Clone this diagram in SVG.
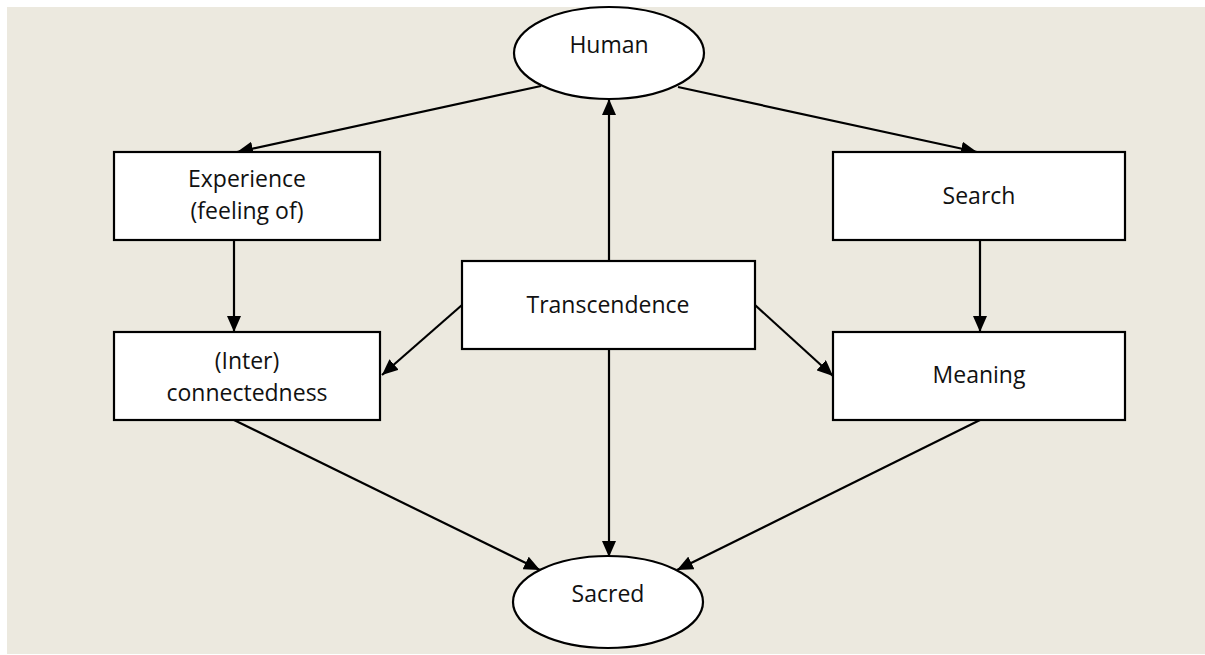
<svg xmlns="http://www.w3.org/2000/svg" width="1205" height="655" viewBox="0 0 1205 655">
  <defs>
    <marker id="arrow" viewBox="0 0 16 14" refX="16" refY="7" markerWidth="16" markerHeight="14" markerUnits="userSpaceOnUse" orient="auto">
      <path d="M0,0 L16,7 L0,14 Z" fill="#000"/>
    </marker>
  </defs>
  <style>
    .node { fill: #fff; stroke: #000; stroke-width: 2.2; }
    .label { font-family: "Open Sans", "Liberation Sans", sans-serif; font-size: 23px; fill: #111; text-anchor: middle; }
    .edge { stroke: #000; stroke-width: 2.2; fill: none; marker-end: url(#arrow); }
  </style>

  <!-- page background -->
  <rect x="0" y="0" width="1205" height="655" fill="#fff"/>
  <rect x="7" y="7" width="1198" height="647" fill="#ECE9DF"/>

  <!-- connectors -->
  <g id="connectors">
    <line class="edge" x1="541" y1="86" x2="237" y2="152"/>
    <line class="edge" x1="678" y1="87" x2="977" y2="152"/>
    <line class="edge" x1="234" y1="240" x2="234" y2="332"/>
    <line class="edge" x1="980" y1="240" x2="980" y2="332"/>
    <line class="edge" x1="609" y1="261" x2="609" y2="99"/>
    <line class="edge" x1="462" y1="305" x2="382" y2="375"/>
    <line class="edge" x1="755" y1="305" x2="833" y2="376"/>
    <line class="edge" x1="609" y1="349" x2="609" y2="557"/>
    <line class="edge" x1="234" y1="420" x2="540" y2="570"/>
    <line class="edge" x1="980" y1="420" x2="677" y2="570"/>
  </g>

  <!-- nodes -->
  <g id="human">
    <ellipse class="node" cx="609" cy="53" rx="95" ry="46"/>
    <text class="label" x="609" y="53">Human</text>
  </g>

  <g id="experience">
    <rect class="node" x="114" y="152" width="266" height="88"/>
    <text class="label" x="247" y="187">Experience</text>
    <text class="label" x="247" y="219">(feeling of)</text>
  </g>

  <g id="search">
    <rect class="node" x="833" y="152" width="292" height="88"/>
    <text class="label" x="979" y="204">Search</text>
  </g>

  <g id="transcendence">
    <rect class="node" x="462" y="261" width="293" height="88"/>
    <text class="label" x="608" y="313">Transcendence</text>
  </g>

  <g id="connectedness">
    <rect class="node" x="114" y="332" width="266" height="88"/>
    <text class="label" x="247" y="369">(Inter)</text>
    <text class="label" x="247" y="401">connectedness</text>
  </g>

  <g id="meaning">
    <rect class="node" x="833" y="332" width="292" height="88"/>
    <text class="label" x="979" y="383">Meaning</text>
  </g>

  <g id="sacred">
    <ellipse class="node" cx="608" cy="602" rx="95" ry="46"/>
    <text class="label" x="608" y="602">Sacred</text>
  </g>
</svg>
